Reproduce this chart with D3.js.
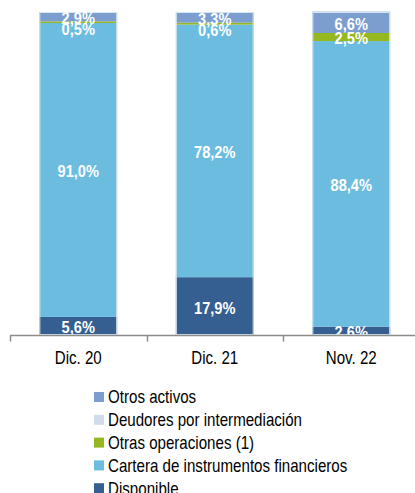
<!DOCTYPE html>
<html><head><meta charset="utf-8">
<script src="https://cdn.jsdelivr.net/npm/d3@7"></script>
<style>
body{margin:0;background:#fff;}
svg{display:block;}
</style></head>
<body>
<svg id="c" width="415" height="493"></svg>
<script>
const categories = ["Dic. 20", "Dic. 21", "Nov. 22"];
const seriesNames = ["Disponible", "Cartera de instrumentos financieros", "Otras operaciones (1)", "Deudores por intermediación", "Otros activos"];
const disponible = [5.6, 17.9, 2.6];
const cartera = [91.0, 78.2, 88.4];
const otras = [0.5, 0.6, 2.5];
const deudores = [0, 0, 0];
const otrosActivos = [2.9, 3.3, 6.6];
const colors = ["#355f91", "#6cbcdf", "#95b71f", "#d0dcea", "#7b9ecf"];

const seriesValues = [disponible, cartera, otras, deudores, otrosActivos];
const rows = categories.map((c, i) => {
  const r = {cat: c};
  seriesNames.forEach((s, j) => r[s] = seriesValues[j][i]);
  return r;
});

const FONT = "'Liberation Sans', Arial, sans-serif";
function narrowText(parent, x, y, txt, opts) {
  const gg = parent.append("g").attr("transform", `translate(${x},${y}) scale(${opts.sx},1)`);
  return gg.append("text").attr("x", 0).attr("y", 0).attr("dy", "0.35em")
    .attr("text-anchor", opts.anchor || "start")
    .attr("fill", opts.fill || "#000")
    .attr("font-family", FONT)
    .attr("font-weight", opts.weight || "normal")
    .attr("font-size", opts.size)
    .text(txt);
}

const svg = d3.select("#c");
const plotTop = 12, plotBottom = 335, plotLeft = 10, plotRight = 419.5;
const x = d3.scaleBand().domain(categories).range([plotLeft, plotRight]).paddingInner(0.43).paddingOuter(0.215);
const y = d3.scaleLinear().domain([0, 100]).range([plotBottom, plotTop]);

const stacked = d3.stack().keys(seriesNames)(rows);

svg.append("clipPath").attr("id", "plot").append("rect")
  .attr("x", 0).attr("y", plotTop).attr("width", 415).attr("height", plotBottom - plotTop);

const g = svg.append("g");
stacked.forEach((layer, j) => {
  g.selectAll(null).data(layer).enter().append("rect")
    .attr("x", d => x(d.data.cat))
    .attr("width", x.bandwidth())
    .attr("y", d => y(d[1]))
    .attr("height", d => y(d[0]) - y(d[1]))
    .attr("fill", colors[j]);
});
g.selectAll(null).data(categories).enter().append("rect")
  .attr("x", d => x(d) + 0.5).attr("width", x.bandwidth() - 1)
  .attr("y", y(100) + 0.5).attr("height", y(0) - y(100) - 1)
  .attr("fill", "none").attr("stroke", "#d6e6f0").attr("stroke-width", 1);

const lg = svg.append("g").attr("clip-path", "url(#plot)");
stacked.forEach((layer, j) => {
  layer.forEach(d => {
    const v = d.data[seriesNames[j]];
    if (!v) return;
    const h = y(d[0]) - y(d[1]);
    let cy = (y(d[0]) + y(d[1])) / 2 + 1.5;
    if (h < 4) cy += 5;
    narrowText(lg, x(d.data.cat) + x.bandwidth() / 2, cy,
      d3.format(".1f")(v).replace(".", ",") + "%",
      {sx: 0.86, anchor: "middle", fill: "#fff", weight: "bold", size: 17});
  });
});

const ax = svg.append("g").attr("transform", `translate(0,${plotBottom + 0.5})`);
ax.append("line").attr("x1", plotLeft).attr("x2", 415).attr("stroke", "#8c8c8c").attr("stroke-width", 1.5);
const tickXs = categories.map(c => x(c) - x.step() * x.paddingInner() / 2);
ax.selectAll(null).data(tickXs).enter().append("line")
  .attr("x1", d => Math.round(d) + 0.5).attr("x2", d => Math.round(d) + 0.5)
  .attr("y1", 0).attr("y2", 6).attr("stroke", "#8c8c8c").attr("stroke-width", 1.5);
categories.forEach(c => {
  narrowText(ax, x(c) + x.bandwidth() / 2, 22, c, {sx: 0.84, anchor: "middle", size: 18});
});

const legendOrder = seriesNames.map((s, i) => i).reverse();
const leg = svg.append("g").attr("transform", "translate(94,397)");
legendOrder.forEach((j, k) => {
  const gy = k * 22.8;
  leg.append("rect").attr("x", 0).attr("y", gy - 5).attr("width", 10).attr("height", 10).attr("fill", colors[j]);
  narrowText(leg, 14, gy, seriesNames[j], {sx: 0.84, size: 18});
});
</script>
</body></html>
